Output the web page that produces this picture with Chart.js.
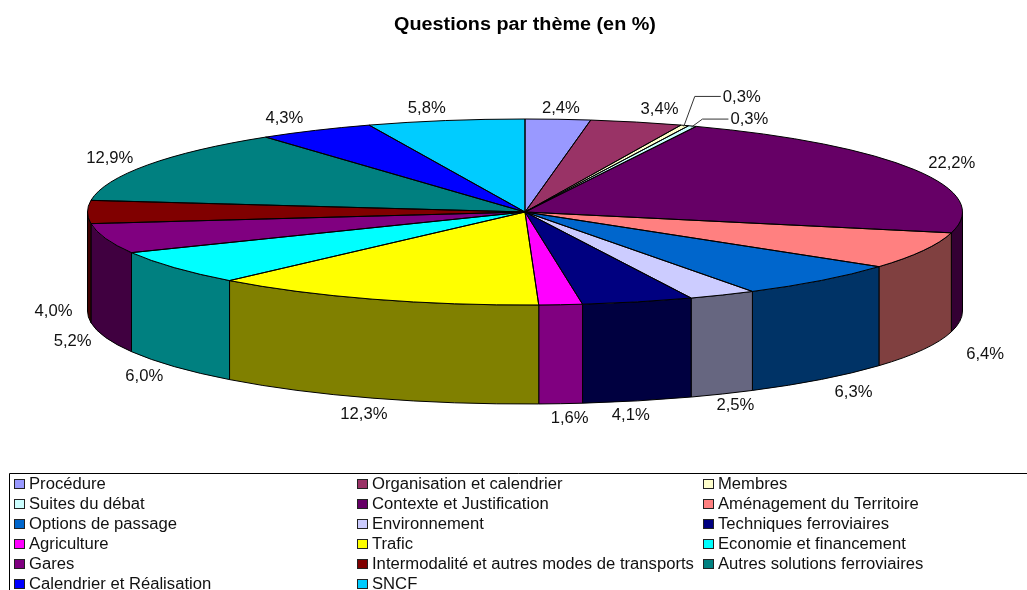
<!DOCTYPE html>
<html lang="fr">
<head>
<meta charset="utf-8">
<style>html,body{margin:0;padding:0;background:#fff;overflow:hidden}#wrap{width:1027px;height:590px}</style>
<script src="https://cdn.jsdelivr.net/npm/chart.js@4/dist/chart.umd.min.js"></script>
</head>
<body>
<div id="wrap"><canvas id="c" width="1027" height="590"></canvas></div>
<script>
const titleText = 'Questions par thème (en %)';
const categories = ['Procédure','Organisation et calendrier','Membres','Suites du débat','Contexte et Justification','Aménagement du Territoire','Options de passage','Environnement','Techniques ferroviaires','Agriculture','Trafic','Economie et financement','Gares','Intermodalité et autres modes de transports','Autres solutions ferroviaires','Calendrier et Réalisation','SNCF'];
const values = [2.4,3.4,0.3,0.3,22.2,6.4,6.3,2.5,4.1,1.6,12.3,6.0,5.2,4.0,12.9,4.3,5.8];
const topColors = ['#9999FF','#993366','#FFFFCC','#CCFFFF','#660066','#FF8080','#0066CC','#CCCCFF','#000080','#FF00FF','#FFFF00','#00FFFF','#800080','#800000','#008080','#0000FF','#00CCFF'];
const wallColors = ['#4D4D80','#4D1A33','#808066','#668080','#330033','#804040','#003366','#666680','#000040','#800080','#808000','#008080','#400040','#400000','#004040','#000080','#006680'];
// label offsets relative to the slice's rim point
const labelNudgeX = [3,23,57,57,37,62,32,13,-7,9,-9,-30,-33,-34,-38,-31,-19];
const labelNudgeY = [-12,-13,-29,-7,-7,4,12,11,14,14,15,9,3,0,-7,-13,-13];
const leaderSlices = [2,3];

const RADIUS = 437.5, SQUASH = 93/437.5, DEPTH = 99;
const FONT = '16px "Liberation Sans", Arial, sans-serif';
const TEXT_WIDEN = 1.04, TITLE_WIDEN = 1.1;

function wideText(ctx,text,x,y){
  ctx.save();
  ctx.translate(x,y); ctx.scale(TEXT_WIDEN,1);
  ctx.fillText(text,0,0);
  ctx.restore();
}

const pie3d = {
  id:'pie3d',
  beforeDraw(chart){
    const ctx = chart.ctx, mid = (chart.chartArea.left+chart.chartArea.right)/2;
    ctx.save();
    ctx.translate(mid,0); ctx.scale(TITLE_WIDEN,1); ctx.translate(-mid,0);
  },
  beforeDatasetsDraw(chart){
    const ctx = chart.ctx, arcs = chart.getDatasetMeta(0).data;
    ctx.restore();
    ctx.save();
    ctx.lineWidth = 1; ctx.strokeStyle = '#000';
    arcs.forEach((el,i)=>{
      const a = Math.max(el.startAngle,0), b = Math.min(el.endAngle,Math.PI);
      if (b <= a) return;
      const ry = el.outerRadius*SQUASH;
      ctx.beginPath();
      ctx.ellipse(el.x,el.y,el.outerRadius,ry,0,a,b,false);
      ctx.ellipse(el.x,el.y+DEPTH,el.outerRadius,ry,0,b,a,true);
      ctx.closePath();
      ctx.fillStyle = wallColors[i];
      ctx.fill(); ctx.stroke();
    });
    ctx.restore();
  },
  beforeDatasetDraw(chart){
    const el = chart.getDatasetMeta(0).data[0], ctx = chart.ctx;
    ctx.save();
    ctx.translate(el.x,el.y); ctx.scale(1,SQUASH); ctx.translate(-el.x,-el.y);
  },
  afterDatasetDraw(chart){
    const ctx = chart.ctx, arcs = chart.getDatasetMeta(0).data;
    ctx.restore();
    ctx.save();
    ctx.lineWidth = 1; ctx.strokeStyle = '#000';
    arcs.forEach(el=>{
      ctx.beginPath();
      ctx.moveTo(el.x,el.y);
      ctx.ellipse(el.x,el.y,el.outerRadius,el.outerRadius*SQUASH,0,el.startAngle,el.endAngle,false);
      ctx.closePath();
      ctx.stroke();
    });
    ctx.restore();
  },
  afterDraw(chart){
    const ctx = chart.ctx, arcs = chart.getDatasetMeta(0).data;
    ctx.save();
    ctx.font = FONT;
    ctx.fillStyle = '#111'; ctx.textAlign = 'center'; ctx.textBaseline = 'middle';
    arcs.forEach((el,i)=>{
      const m = (el.startAngle+el.endAngle)/2;
      const ax = el.x+el.outerRadius*Math.cos(m);
      let ay = el.y+el.outerRadius*SQUASH*Math.sin(m);
      if (m >= 0 && m <= Math.PI + 1e-6) ay += DEPTH;
      const lx = ax+labelNudgeX[i], ly = ay+labelNudgeY[i];
      wideText(ctx,values[i].toFixed(1).replace('.',',')+'%',lx,ly+1);
      if (leaderSlices.includes(i)) {
        ctx.beginPath();
        ctx.moveTo(ax-1,ay+1);
        ctx.lineTo(lx-47,ly);
        ctx.lineTo(lx-21,ly);
        ctx.strokeStyle = '#333'; ctx.lineWidth = 1;
        ctx.stroke();
      }
    });
    // legend
    const colX = [14,357,703], top = 484, rowH = 20;
    ctx.strokeStyle = '#000'; ctx.lineWidth = 1;
    ctx.beginPath(); ctx.moveTo(9.5,590); ctx.lineTo(9.5,473.5); ctx.lineTo(1027,473.5); ctx.stroke();
    ctx.textAlign = 'left';
    categories.forEach((name,i)=>{
      const x = colX[i%3], y = top+rowH*Math.floor(i/3);
      ctx.fillStyle = topColors[i];
      ctx.fillRect(x+.5,y-4.5,10,9);
      ctx.strokeStyle = '#222'; ctx.strokeRect(x+.5,y-4.5,10,9);
      ctx.fillStyle = '#111';
      wideText(ctx,name,x+15,y+1);
    });
    ctx.restore();
  }
};

new Chart(document.getElementById('c').getContext('2d'),{
  type:'pie',
  data:{labels:categories,datasets:[{data:values,backgroundColor:topColors,borderWidth:0,clip:false}]},
  plugins:[pie3d],
  options:{
    responsive:false,animation:false,radius:RADIUS,
    layout:{padding:{left:23,bottom:216}},
    plugins:{
      legend:{display:false},tooltip:{enabled:false},
      title:{display:true,text:titleText,color:'#000',font:{family:'"Liberation Sans", Arial, sans-serif',size:18,weight:'bold',lineHeight:1.2},padding:{top:14,bottom:14.4}}
    }
  }
});
</script>
</body>
</html>
